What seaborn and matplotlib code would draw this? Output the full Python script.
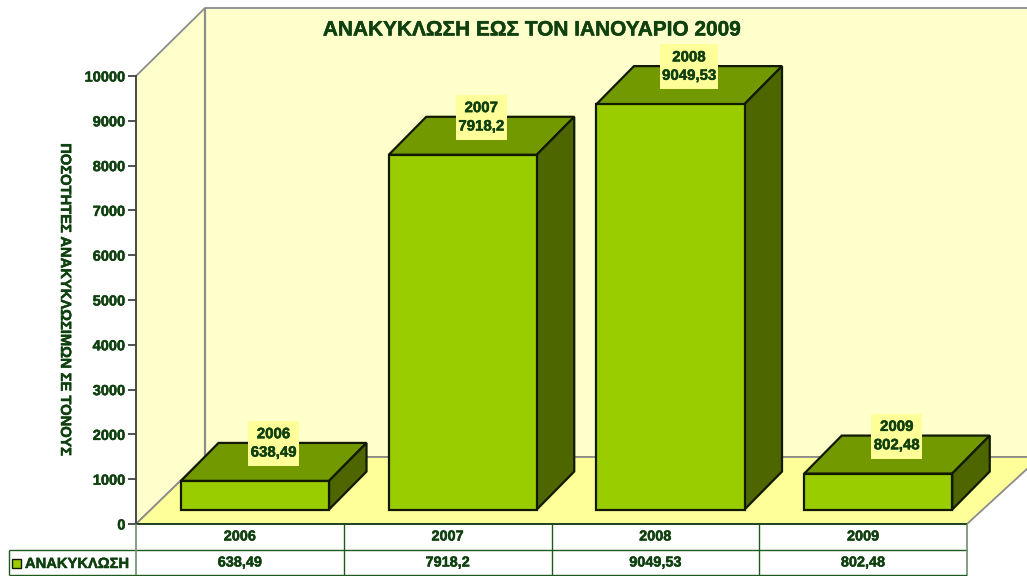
import matplotlib
matplotlib.use("Agg")
import matplotlib.pyplot as plt
import matplotlib.patheffects as pe
from matplotlib.patches import Polygon, Rectangle
from matplotlib.transforms import Affine2D, IdentityTransform
import pandas as pd
import seaborn as sns

YEARS = ["2006", "2007", "2008", "2009"]
TONNES = [638.49, 7918.2, 9049.53, 802.48]
SERIES_NAME = "ΑΝΑΚΥΚΛΩΣΗ"
TITLE = "ΑΝΑΚΥΚΛΩΣΗ ΕΩΣ ΤΟΝ ΙΑΝΟΥΑΡΙΟ 2009"
Y_LABEL = "ΠΟΣΟΤΗΤΕΣ ΑΝΑΚΥΚΛΩΣΙΜΩΝ ΣΕ ΤΟΝΟΥΣ"
Y_TICKS = list(range(0, 10001, 1000))

TEXT = "#0f400f"
FRONT = "#9acd00"
TOP = "#739900"
SIDE = "#4d6600"
WALL = "#ffffcc"
FLOOR = "#ffff99"
GREY = "#8c8c8c"
RULE = "#1d5a1d"
EDGE = "#111a00"

W, H = 1027, 576
DEPTH_X, DEPTH_Y = 37.5, 38
FRONT_BASE = 323  # front faces start this far above the axis zero, out on the floor
LABEL_H = 45

sns.set_style("white")
plt.rcParams["font.family"] = ["Liberation Sans", "DejaVu Sans"]
plt.rcParams["font.weight"] = "bold"

fig = plt.figure(figsize=(W / 100, H / 100), dpi=100)
ax = fig.add_axes([136 / W, 1 - 524 / H, 831 / W, 448 / H])

# pixel coordinates of the picture, y pointing down, for the chart's frame
px = Affine2D().scale(1, -1).translate(0, H)


def frame(points, color, z):
    ax.add_patch(Polygon(points, closed=True, facecolor=color, edgecolor=GREY, linewidth=1.3,
                         transform=px, clip_on=False, zorder=z))


def rule(x0, y0, x1, y1, color=RULE, lw=1.0, z=1.5):
    ax.plot([x0, x1], [y0, y1], color=color, lw=lw, transform=px, clip_on=False, zorder=z,
            solid_capstyle="butt")


def cell_text(x, y, s, **kw):
    ax.text(x, y, s, transform=px, ha="center", va="center", color=TEXT, fontsize=10.4,
            clip_on=False, **kw)


df = pd.DataFrame({"year": YEARS, "tonnes": TONNES})
sns.barplot(data=df, x="year", y="tonnes", color=FRONT, saturation=1, width=0.7125,
            bottom=FRONT_BASE, edgecolor=EDGE, linewidth=1.6, ax=ax, zorder=3, clip_on=False)

ax.set_xlim(-0.5728, 3.4272)
ax.set_ylim(0, 10000)
ax.patch.set_visible(False)

# walls and floor
frame([(136, 76), (205, 8), (1040, 8), (1040, 457), (205, 457), (136, 524)], WALL, 0.5)
rule(205, 8, 205, 457, GREY, 1.6, 0.6)
frame([(136, 524), (205, 457), (1040, 457), (967, 524)], FLOOR, 0.7)

# depth faces of each bar
for bar in list(ax.patches):
    if bar.get_zorder() != 3:
        continue
    (x0, y0), (x1, y1) = ax.transData.transform(
        [(bar.get_x(), bar.get_y()), (bar.get_x() + bar.get_width(), bar.get_y() + bar.get_height())])
    top = [(x0, y1), (x1, y1), (x1 + DEPTH_X, y1 + DEPTH_Y), (x0 + DEPTH_X, y1 + DEPTH_Y)]
    side = [(x1, y0), (x1 + DEPTH_X, y0 + DEPTH_Y), (x1 + DEPTH_X, y1 + DEPTH_Y), (x1, y1)]
    for pts, color in [(top, TOP), (side, SIDE)]:
        ax.add_patch(Polygon(pts, closed=True, facecolor=color, edgecolor=EDGE, linewidth=1.6,
                             transform=IdentityTransform(), clip_on=False, zorder=2.9))

# value labels on the bars, box as wide as the text
renderer = fig.canvas.get_renderer()
for i, (year, value) in enumerate(zip(YEARS, TONNES)):
    cx, cy = ax.transData.transform((i, value + FRONT_BASE)) + (18.5, 37.5)
    label = ax.text(cx, cy, f"{year}\n{str(value).replace('.', ',')}", transform=IdentityTransform(),
                    ha="center", va="center", color=TEXT, fontsize=10.8, linespacing=1.4, zorder=5,
                    clip_on=False)
    box_w = label.get_window_extent(renderer).width + 5
    ax.add_patch(Rectangle((cx - box_w / 2, cy - LABEL_H / 2), box_w, LABEL_H, facecolor=FLOOR,
                           edgecolor="none", transform=IdentityTransform(), clip_on=False, zorder=4))

# axes
ax.set_yticks(Y_TICKS)
ax.set_xticks([])
ax.set_xlabel("")
ax.set_ylabel("")
ax.tick_params(axis="y", left=True, length=5.5, width=1.2, color="#333333", labelcolor=TEXT,
               labelsize=10.5, pad=2)
for name, spine in ax.spines.items():
    spine.set_visible(name == "left")
ax.spines["left"].set_color("#444444")
ax.spines["left"].set_linewidth(1.3)
ax.spines["left"].set_zorder(1)

ax.text(532, 30, TITLE, transform=px, ha="center", va="center", color=TEXT, fontsize=15, zorder=6)
ax.text(65, 300, Y_LABEL, transform=px, rotation=270, ha="center", va="center", color=TEXT,
        fontsize=10.6, clip_on=False)

# data table below the chart
cell_w = 831 / len(YEARS)
rule(136, 524, 967, 524, "#173d17", 1.3, 1)
rule(136, 550, 967, 550)
rule(9, 550, 136, 550)
rule(9, 575, 967, 575)
rule(9, 550, 9, 575)
rule(136, 524, 136, 575, "#6e8f6e", 1.2)
rule(967, 524, 967, 575, "#6e8f6e", 1.2)
for i, (year, value) in enumerate(zip(YEARS, TONNES)):
    center = 136 + cell_w * (i + 0.5)
    if i > 0:
        rule(136 + cell_w * i, 524, 136 + cell_w * i, 575)
    cell_text(center, 536.5, year)
    cell_text(center, 562.5, str(value).replace(".", ","))

ax.add_patch(Rectangle((12, 559), 9, 9, facecolor=FRONT, edgecolor=EDGE, linewidth=1.0,
                       transform=px, clip_on=False))
ax.text(25, 564, SERIES_NAME, transform=px, ha="left", va="center", color=TEXT, fontsize=10.6,
        clip_on=False)

# the original's lettering is a touch heavier
for t in ax.texts + ax.get_yticklabels():
    t.set_path_effects([pe.withStroke(linewidth=0.35, foreground=TEXT)])

fig.savefig("out.png", dpi=100, facecolor="white")
